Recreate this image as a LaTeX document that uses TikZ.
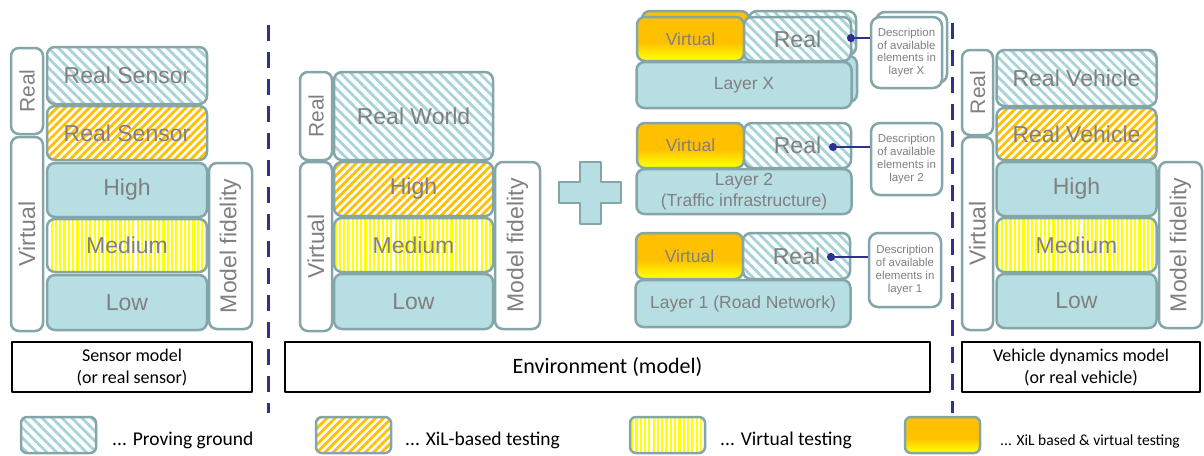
\documentclass[tikz,border=0pt]{standalone}
\usepackage{fontspec}
\setmainfont{Liberation Sans}
\newfontfamily\calibfont{Carlito}
\usetikzlibrary{patterns.meta,arrows.meta}

\definecolor{rimgray}{RGB}{132,166,168}
\definecolor{tealfill}{RGB}{183,222,226}
\definecolor{tealline}{RGB}{168,212,217}
\definecolor{xilorange}{RGB}{255,192,0}
\definecolor{virtyellow}{RGB}{255,255,0}
\definecolor{labelgray}{RGB}{128,128,128}
\definecolor{sepblue}{RGB}{46,49,146}

% orange on top, yellow at the bottom (box spans 25bp..75bp)
\pgfdeclareverticalshading{xilvirt}{100bp}{color(0bp)=(virtyellow); color(27bp)=(virtyellow); color(46bp)=(xilorange); color(100bp)=(xilorange)}

\begin{document}
\begin{tikzpicture}[x=1pt,y=-1pt,line join=round]
  \tikzset{
    dims/.style 2 args={minimum width=#1pt,minimum height=#2pt},
    block/.style={draw=rimgray,line width=2.5pt,rounded corners=8pt,inner sep=0pt,
      text=labelgray,font=\fontsize{23}{27}\selectfont},
    sidetab/.style={block,fill=white},
    tealbox/.style={block,fill=tealfill},
    provebox/.style={block,preaction={fill=white},
      pattern={Lines[angle=-45,distance=7pt,line width=2.8pt]},pattern color=tealline},
    xilbox/.style={block,preaction={fill=white},
      pattern={Lines[angle=45,distance=5.7pt,line width=2.8pt]},pattern color=xilorange},
    virtbox/.style={block,preaction={fill=white},
      pattern={Lines[angle=90,distance=4.3pt,line width=2.2pt]},pattern color=virtyellow},
    mixbox/.style={block,shading=xilvirt},
    layertext/.style={font=\fontsize{17.5}{20.5}\selectfont,align=center},
    descbox/.style={block,fill=white,rounded corners=9pt,align=center,
      font=\fontsize{11.5}{12.7}\selectfont},
    lblbox/.style={draw=black,line width=2.2pt,fill=white,align=center,inner sep=0pt,
      font=\calibfont\fontsize{18}{22}\selectfont},
    legtext/.style={anchor=west,inner sep=0pt,font=\calibfont\fontsize{19.5}{23}\selectfont},
    sepline/.style={draw=sepblue,line width=3pt,dash pattern=on 16pt off 11pt},
    conn/.style={draw=sepblue,line width=2.5pt,{Circle[length=8pt]}-},
    plusmark/.style={draw=rimgray,line width=2.5pt,fill=tealfill}
  }
  \fill[white] (0,0) rectangle (1204,455);
  \useasboundingbox (0,0) rectangle (1204,455);

  % sensor column
  \node[sidetab,dims={86}{32},rotate=90,font=\fontsize{21}{25}\selectfont] (senReal) at (27,91) {Real};
  \node[sidetab,dims={194}{32},rotate=90] (senVirt) at (27,234) {Virtual};
  \node[provebox,dims={160}{57}] (senP) at (127,75.5) {Real Sensor};
  \node[xilbox,dims={160}{54}] (senX) at (127,133) {Real Sensor};
  \node[tealbox,dims={160}{54}] (senHigh) at (127,190) {High};
  \node[virtbox,dims={160}{53}] (senMed) at (127,245.5) {Medium};
  \node[tealbox,dims={160}{55}] (senLow) at (127,302.5) {Low};
  \node[sidetab,dims={166}{43},rotate=90] (senFid) at (230.5,246) {Model fidelity};

  % environment column
  \node[sidetab,dims={88}{32},rotate=90,font=\fontsize{21}{25}\selectfont] (envReal) at (316,116) {Real};
  \node[sidetab,dims={169}{32},rotate=90] (envVirt) at (316,246.5) {Virtual};
  \node[provebox,dims={159}{88}] (envP) at (413.5,116) {Real World};
  \node[xilbox,dims={159}{54}] (envHigh) at (413.5,189) {High};
  \node[virtbox,dims={159}{54}] (envMed) at (413.5,245) {Medium};
  \node[tealbox,dims={159}{55}] (envLow) at (413.5,301.5) {Low};
  \node[sidetab,dims={167}{45},rotate=90] (envFid) at (517.5,245.5) {Model fidelity};

  % plus sign between the model and its layers
  \draw[plusmark] (580,162) -- (601,162) -- (601,182) -- (621,182) -- (621,203)
    -- (601,203) -- (601,224) -- (580,224) -- (580,203) -- (559,203) -- (559,182)
    -- (580,182) -- cycle;

  % layer X, with a copy behind it
  \node[mixbox,dims={107}{44}] (virtXb) at (695.5,33) {};
  \node[provebox,dims={107}{44}] (realXb) at (802.5,33) {};
  \node[tealbox,dims={215}{46}] (layXb) at (749.5,79) {};
  \node[mixbox,dims={107}{44},layertext] (virtX) at (690.5,39) {Virtual};
  \node[provebox,dims={107}{44}] (realX) at (797.5,39) {Real};
  \node[tealbox,dims={215}{46},layertext] (layX) at (744,85) {Layer X};
  \node[descbox,dims={71}{71}] (descXb) at (911.5,47.5) {};
  \node[descbox,dims={71}{71}] (descX) at (906.5,52.5) {Description\\of available\\elements in\\layer X};
  \coordinate (dotX) at (847,38);
  \draw[conn] (dotX) -- (dotX -| descX.west);

  % layer 2
  \node[mixbox,dims={107}{45},layertext] (virt2) at (690.5,145.5) {Virtual};
  \node[provebox,dims={107}{45}] (real2) at (797.5,145.5) {Real};
  \node[tealbox,dims={215}{45},layertext] (lay2) at (744,191.5) {Layer 2\\(Traffic infrastructure)};
  \node[descbox,dims={71}{72}] (desc2) at (906.5,159) {Description\\of available\\elements in\\layer 2};
  \coordinate (dot2) at (829,147);
  \draw[conn] (dot2) -- (dot2 -| desc2.west);

  % layer 1
  \node[mixbox,dims={107}{46},layertext] (virt1) at (689.5,256) {Virtual};
  \node[provebox,dims={107}{46}] (real1) at (796.5,256) {Real};
  \node[tealbox,dims={215}{47},layertext] (lay1) at (743,303.5) {Layer 1 (Road Network)};
  \node[descbox,dims={72}{74}] (desc1) at (905,270) {Description\\of available\\elements in\\layer 1};
  \coordinate (dot1) at (827,257);
  \draw[conn] (dot1) -- (dot1 -| desc1.west);

  % vehicle column
  \node[sidetab,dims={85}{31},rotate=90,font=\fontsize{21}{25}\selectfont] (vehReal) at (977.5,92.5) {Real};
  \node[sidetab,dims={193}{31},rotate=90] (vehVirt) at (977.5,233.5) {Virtual};
  \node[provebox,dims={160}{56}] (vehP) at (1076.5,78) {Real Vehicle};
  \node[xilbox,dims={160}{52}] (vehX) at (1076.5,134) {Real Vehicle};
  \node[tealbox,dims={160}{54}] (vehHigh) at (1076.5,189) {High};
  \node[virtbox,dims={160}{54}] (vehMed) at (1076.5,245) {Medium};
  \node[tealbox,dims={160}{54}] (vehLow) at (1076.5,301) {Low};
  \node[sidetab,dims={166}{43},rotate=90] (vehFid) at (1180.5,245) {Model fidelity};

  % column captions
  \node[lblbox,dims={240}{50}] (senLbl) at (132,367) {Sensor model\\(or real sensor)};
  \node[lblbox,dims={645}{50},font=\calibfont\fontsize{22}{26}\selectfont] (envLbl) at (607.5,367) {Environment (model)};
  \node[lblbox,dims={238}{50}] (vehLbl) at (1081,367) {Vehicle dynamics model\\(or real vehicle)};

  % separators
  \coordinate (sepLtop) at (268,25);
  \coordinate (sepLbot) at (268,413);
  \coordinate (sepRtop) at (952,23);
  \coordinate (sepRbot) at (952,413);
  \draw[sepline] (sepLtop) -- (sepLbot);
  \draw[sepline] (sepRtop) -- (sepRbot);

  % legend
  \node[provebox,dims={75}{36},rounded corners=6pt] (legP) at (58.5,435) {};
  \node[legtext] (legPt) at (112,440) {... Proving ground};
  \node[xilbox,dims={75}{36},rounded corners=6pt] (legX) at (353.5,435) {};
  \node[legtext] (legXt) at (405,440) {... XiL-based testing};
  \node[virtbox,dims={75}{36},rounded corners=6pt] (legV) at (667.5,435) {};
  \node[legtext] (legVt) at (720,440) {... Virtual testing};
  \node[mixbox,dims={75}{36},rounded corners=6pt] (legM) at (942.5,435) {};
  \node[legtext,font=\calibfont\fontsize{15.5}{18}\selectfont] (legMt) at (1000,441) {... XiL based \& virtual testing};
\end{tikzpicture}
\end{document}
